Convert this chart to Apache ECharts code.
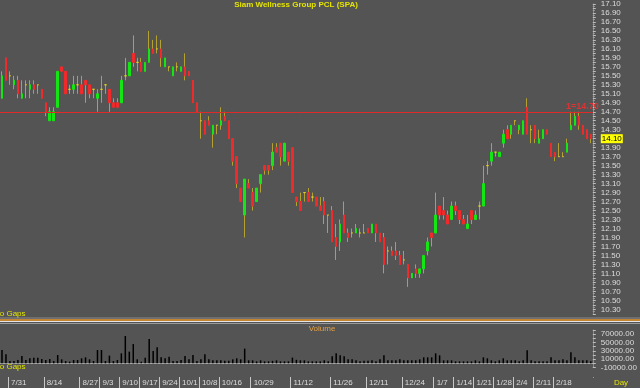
<!DOCTYPE html>
<html><head><meta charset="utf-8">
<script src="https://cdn.jsdelivr.net/npm/echarts@6/dist/echarts.min.js"></script>
<style>html,body{margin:0;padding:0;background:#545454;}#c{width:640px;height:388px;}</style>
</head><body><div id="c"></div>
<script>
const title = 'Siam Wellness Group PCL (SPA)';
const dates = ['7/25','7/26','7/31','8/1','8/2','8/3','8/6','8/7','8/8','8/9',
'8/10','8/14','8/15','8/16','8/17','8/20','8/21','8/22','8/23','8/24',
'8/27','8/28','8/29','8/30','8/31','9/3','9/4','9/5','9/6','9/7',
'9/10','9/11','9/12','9/13','9/14','9/17','9/18','9/19','9/20','9/21',
'9/24','9/25','9/26','9/27','9/28','10/1','10/2','10/3','10/4','10/5',
'10/8','10/9','10/10','10/11','10/12','10/16','10/17','10/18','10/19','10/22',
'10/24','10/25','10/26','10/29','10/30','10/31','11/1','11/2','11/5','11/6',
'11/7','11/8','11/9','11/12','11/13','11/14','11/15','11/16','11/19','11/20',
'11/21','11/22','11/23','11/26','11/27','11/28','11/29','11/30','12/3','12/4',
'12/6','12/7','12/11','12/12','12/13','12/14','12/17','12/18','12/19','12/20',
'12/21','12/24','12/25','12/26','12/27','12/28','1/2','1/3','1/4','1/7',
'1/8','1/9','1/10','1/11','1/14','1/15','1/16','1/17','1/18','1/21',
'1/22','1/23','1/24','1/25','1/28','1/29','1/30','1/31','2/1','2/4',
'2/5','2/6','2/7','2/8','2/11','2/12','2/13','2/14','2/15','2/18',
'2/20','2/21','2/22','2/25','2/26','2/27','2/28','3/1','3/4'];
const dateLabels = ['7/31','8/14','8/27','9/3','9/10','9/17','9/24','10/1','10/8','10/16','10/29','11/12','11/26','12/11','12/24','1/7','1/14','1/21','1/28','2/4','2/11','2/18'];
const opens = [15.0,15.9,15.5,15.3,15.4,15.0,15.3,15.2,15.3,15.3,
15.2,14.9,14.5,14.5,14.8,15.7,15.6,15.2,15.2,15.3,
15.3,15.4,15.3,15.2,15.0,15.2,15.3,15.2,14.9,14.9,
14.9,15.5,15.5,16.0,15.8,15.8,15.6,15.8,16.1,16.1,
16.1,15.7,15.7,15.5,15.7,15.6,15.7,15.6,15.4,14.9,
14.5,14.5,14.5,14.2,14.4,14.4,14.6,14.5,14.1,13.7,
13.0,12.4,13.1,12.9,12.7,13.1,13.5,13.5,13.5,13.9,
14.0,13.6,13.8,13.9,12.8,12.7,12.9,12.9,12.8,12.8,
12.6,12.7,12.4,12.5,11.9,11.8,12.4,12.0,12.0,12.0,
12.0,12.0,12.1,12.0,12.2,12.0,11.9,11.6,11.6,11.6,
11.5,11.4,11.3,11.0,11.2,11.1,11.2,11.6,12.0,12.0,
12.6,12.5,12.4,12.3,12.6,12.5,12.3,12.1,12.5,12.3,
12.6,12.6,13.5,13.6,13.8,13.7,14.0,14.3,14.2,14.5,
14.3,14.2,14.8,14.3,14.4,14.0,14.1,14.3,14.0,13.8,
13.7,13.7,13.8,14.3,14.4,14.6,14.4,14.3,14.2];
const closes = [15.5,15.4,15.5,15.4,15.1,15.1,15.3,15.3,15.2,15.3,
15.0,14.7,14.7,14.7,15.6,15.6,15.1,15.2,15.3,15.3,
15.1,15.3,15.1,15.2,15.1,15.2,15.3,14.9,14.8,14.8,
15.4,15.5,15.8,15.8,15.8,15.6,15.8,16.1,16.0,16.1,
15.9,15.9,15.7,15.7,15.7,15.7,15.5,15.5,14.9,14.7,
14.5,14.2,14.4,14.4,14.4,14.5,14.5,14.1,13.6,13.1,
12.7,13.2,13.0,12.6,13.0,13.3,13.4,13.4,13.8,13.8,
13.7,14.0,13.6,12.9,12.7,12.5,12.9,12.7,12.8,12.6,
12.5,12.4,12.4,11.8,11.7,12.2,12.0,11.9,12.0,12.1,
12.0,12.0,12.0,12.2,12.0,11.8,11.3,11.6,11.5,11.5,
11.3,11.4,11.0,11.1,11.1,11.2,11.5,11.8,11.9,12.4,
12.4,12.4,12.2,12.6,12.5,12.3,12.2,12.2,12.3,12.4,
12.6,13.1,13.5,13.8,13.8,13.8,14.2,14.1,14.4,14.5,
14.4,14.5,14.2,14.3,14.1,14.1,14.3,14.2,13.7,13.7,
13.7,13.7,14.0,14.4,14.6,14.4,14.2,14.1,14.1];
const lows = [15.0,15.4,15.3,15.2,15.0,15.0,15.0,15.0,15.1,15.1,
15.0,14.6,14.5,14.5,14.8,15.6,15.1,15.1,15.1,15.1,
15.1,14.9,15.0,15.0,14.7,14.9,15.1,14.7,14.8,14.8,
14.9,15.4,15.5,15.7,15.6,15.6,15.6,15.8,16.0,16.0,
15.7,15.7,15.6,15.5,15.6,15.6,15.4,15.5,14.9,14.7,
14.1,14.2,14.4,13.9,14.2,14.3,14.5,14.1,13.5,13.0,
12.7,11.9,13.0,12.5,12.7,12.9,13.3,13.3,13.4,13.8,
13.5,13.6,13.5,12.9,12.6,12.5,12.7,12.7,12.7,12.6,
12.5,12.2,12.0,11.8,11.4,11.6,12.0,11.8,11.9,12.0,
11.9,12.0,12.0,12.0,11.8,11.8,11.1,11.3,11.5,11.4,
11.3,11.3,10.8,11.0,11.0,11.0,11.1,11.5,11.7,12.0,
12.3,12.3,12.2,12.3,12.4,12.2,12.2,12.1,12.2,12.3,
12.3,12.6,13.3,13.5,13.7,13.7,13.9,14.1,14.1,14.4,
14.2,14.2,14.2,14.0,14.0,14.0,14.1,14.2,13.7,13.6,
13.7,13.7,13.8,14.3,14.4,14.3,14.2,14.1,14.0];
const highs = [15.6,15.9,15.6,15.5,15.5,15.4,15.4,15.4,15.4,15.3,
15.2,14.9,14.8,14.8,15.6,15.7,15.6,15.3,15.5,15.5,
15.5,15.4,15.3,15.2,15.2,15.5,15.3,15.2,15.0,15.0,
15.5,15.9,15.8,16.4,15.9,15.9,15.8,16.5,16.3,16.4,
16.3,15.9,15.7,15.7,15.8,15.7,16.0,15.6,15.4,14.9,
14.7,14.5,14.6,14.4,14.4,14.8,14.7,14.5,14.1,13.7,
13.0,13.2,13.2,13.0,13.0,13.3,13.5,13.5,14.0,14.0,
14.0,14.0,13.8,13.9,12.8,12.9,12.9,13.0,12.9,12.8,
12.8,12.8,12.4,12.6,12.2,12.3,12.7,12.1,12.1,12.2,
12.1,12.2,12.1,12.2,12.2,12.0,12.0,11.7,11.7,11.8,
11.6,11.6,11.3,11.1,11.3,11.2,11.5,11.9,12.0,12.9,
12.6,12.8,12.5,12.7,12.7,12.5,12.4,12.4,12.5,12.5,
12.7,13.5,13.6,14.0,13.8,13.8,14.3,14.4,14.4,14.5,
14.4,14.5,15.0,14.4,14.4,14.3,14.3,14.3,14.0,13.8,
14.0,13.8,14.1,14.7,14.7,14.7,14.4,14.3,14.2];
const volumes = [31900,21600,5500,5500,7900,17500,7900,12000,13700,13700,
10300,7900,10300,5500,19900,9600,5500,4100,7900,7900,
12000,14400,9600,5500,31900,31900,5500,18500,5500,7900,
24000,65500,28100,46300,9600,4100,13700,58300,29500,38400,
14400,12000,16100,5500,5500,7900,17500,9600,19900,5500,
9600,21600,9600,7200,7200,7200,6000,6000,9600,12000,
9600,35300,7200,7200,4800,7200,4800,4800,6000,7200,
4800,4800,4800,13700,8400,7200,7200,4800,4800,4800,
4800,7200,4800,16800,24000,19200,16800,9600,9600,7200,
4800,6000,6000,7200,4800,9600,19200,7200,7200,7200,
9600,7200,7200,7200,7200,9600,14400,14400,14400,24000,
19200,7200,7200,7200,4800,4800,4800,4800,4800,7200,
4800,14400,12000,7200,4800,7200,12000,7200,7200,7200,
4800,7200,31200,7200,4800,4800,4800,4800,14400,7200,
7200,9600,7200,26400,14400,7200,7200,7200,4800];
const priceTicks = ['17.10','16.90','16.70','16.50','16.30','16.10','15.90','15.70','15.50','15.30','15.10','14.90','14.70','14.50','14.30','14.10','13.90','13.70','13.50','13.30','13.10','12.90','12.70','12.50','12.30','12.10','11.90','11.70','11.50','11.30','11.10','10.90','10.70','10.50','10.30'];
const volumeTicks = [70000, 50000, 30000, 10000, -10000];
const refLevel = 14.70;

const FONT = 'Liberation Sans';
const BG = '#545454';
const GREEN = '#14e614', RED = '#f02a2a', WICK = '#b3a134', DOJI = '#e6d21e';
const LBL = '#dcdcdc';
const lastClose = closes[closes.length - 1].toFixed(2);
const wickData = dates.map((d, i) => [opens[i], closes[i], lows[i], highs[i]]);
const bodyData = dates.map((d, i) => [opens[i], closes[i], Math.min(opens[i], closes[i]), Math.max(opens[i], closes[i])]);
const showDate = (idx, val) => dateLabels.indexOf(dates[idx]) >= 0;

const chart = echarts.init(document.getElementById('c'), null, {renderer: 'canvas', width: 640, height: 388});
const GL = -1, GR = 47.2;
chart.setOption({
  animation: false,
  backgroundColor: BG,
  textStyle: {fontFamily: FONT},
  grid: [
    {left: GL, right: GR, top: 1, height: 312.8},
    {left: GL, right: GR, top: 330, height: 37.5},
    {left: GL, right: GR, top: 377, height: 11}
  ],
  xAxis: [
    {type: 'category', gridIndex: 0, data: dates, boundaryGap: true,
     axisLine: {show: false}, axisTick: {show: false}, axisLabel: {show: false}, splitLine: {show: false}},
    {type: 'category', gridIndex: 1, data: dates, boundaryGap: true, offset: 9.5,
     axisLine: {show: true, lineStyle: {color: '#a8a8a8', width: 1}},
     axisTick: {show: false},
     axisLabel: {interval: showDate, align: 'left', margin: 2, padding: [0, 0, 0, 1], color: LBL, fontSize: 8, fontFamily: FONT},
     splitLine: {show: false}},
    {type: 'category', gridIndex: 2, data: dates, boundaryGap: true, position: 'top',
     axisLine: {show: false}, axisTick: {show: false}, axisLabel: {show: false},
     splitLine: {show: true, interval: showDate, lineStyle: {color: '#c8c8c8', width: 1}}}
  ],
  yAxis: [
    {type: 'value', gridIndex: 0, position: 'right', min: 10.2, max: 17.1, interval: 0.1,
     splitLine: {show: false},
     axisLine: {show: true, lineStyle: {color: '#8c8c8c'}},
     axisTick: {show: true, length: 3, lineStyle: {color: '#bdbdbd'}},
     minorTick: {show: true, splitNumber: 2, length: 2, lineStyle: {color: '#a0a0a0'}},
     axisLabel: {margin: 8, color: LBL, fontSize: 8, fontFamily: FONT,
       formatter: v => { const s = v.toFixed(2); if (priceTicks.indexOf(s) < 0) return ''; return s === lastClose ? '{hl|' + s + '}' : s; },
       rich: {hl: {backgroundColor: '#ffff00', color: '#000', fontSize: 8, fontFamily: FONT, padding: [1, 1, 0, 1]}}}},
    {type: 'value', gridIndex: 1, position: 'right', min: -10000, max: 80000, interval: 10000,
     splitLine: {show: false},
     axisLine: {show: true, lineStyle: {color: '#8c8c8c'}},
     axisTick: {show: true, length: 3, lineStyle: {color: '#bdbdbd'}},
     axisLabel: {margin: 8, color: LBL, fontSize: 8, fontFamily: FONT,
       formatter: v => volumeTicks.indexOf(Math.round(v)) >= 0 ? v.toFixed(2) : ''}},
    {type: 'value', gridIndex: 2, show: false, min: 0, max: 1}
  ],
  series: [
    {type: 'candlestick', name: 'range', xAxisIndex: 0, yAxisIndex: 0, data: wickData, barWidth: 0.2, z: 2,
     itemStyle: {color: WICK, color0: WICK, borderColor: WICK, borderColor0: WICK, borderColorDoji: WICK, borderWidth: 1},
     markLine: {silent: true, symbol: 'none', animation: false,
       lineStyle: {color: '#e02a2a', width: 1, type: 'solid'},
       label: {show: true, position: 'insideEndTop', formatter: '1=' + refLevel.toFixed(2), color: '#e03232', fontSize: 9, fontWeight: 'bold', fontFamily: FONT, distance: [-6, 1]},
       data: [{yAxis: refLevel}]}},
    {type: 'candlestick', name: 'body', xAxisIndex: 0, yAxisIndex: 0, data: bodyData, barWidth: 2, z: 3,
     itemStyle: {color: GREEN, color0: RED, borderColor: GREEN, borderColor0: RED, borderColorDoji: DOJI, borderWidth: 1}},
    {type: 'bar', name: 'Volume', xAxisIndex: 1, yAxisIndex: 1, data: volumes, barWidth: 1.5,
     itemStyle: {color: '#000'}},
    {type: 'line', name: 'dateband', xAxisIndex: 2, yAxisIndex: 2, data: [], silent: true}
  ],
  graphic: [
    {type: 'text', x: 296, y: 5, style: {text: title, fill: '#e4e400', font: 'bold 8px ' + FONT, align: 'center', verticalAlign: 'middle'}},
    {type: 'text', x: -6, y: 314, style: {text: 'No Gaps', fill: '#e4e400', font: '8px ' + FONT, align: 'left', verticalAlign: 'middle'}},
    {type: 'text', x: -6, y: 367, style: {text: 'No Gaps', fill: '#e4e400', font: '8px ' + FONT, align: 'left', verticalAlign: 'middle'}},
    {type: 'rect', shape: {x: 0, y: 317.5, width: 640, height: 1}, style: {fill: '#8a8a8a'}},
    {type: 'rect', shape: {x: 0, y: 319.3, width: 640, height: 1.5}, style: {fill: '#e8962a'}},
    {type: 'rect', shape: {x: 0, y: 321, width: 640, height: 1}, style: {fill: '#e6e6e6'}},
    {type: 'rect', shape: {x: 0, y: 323, width: 640, height: 1}, style: {fill: '#9a9a9a'}},
    {type: 'rect', z: 100, shape: {x: 589.5, y: 377.6, width: 7, height: 11}, style: {fill: BG}},
    {type: 'text', x: 322, y: 329, style: {text: 'Volume', fill: '#e8a040', font: '8px ' + FONT, align: 'center', verticalAlign: 'middle'}},
    {type: 'text', x: 621, y: 383, style: {text: 'Day', fill: '#e4e400', font: '8px ' + FONT, align: 'center', verticalAlign: 'middle'}}
  ]
});
</script></body></html>
